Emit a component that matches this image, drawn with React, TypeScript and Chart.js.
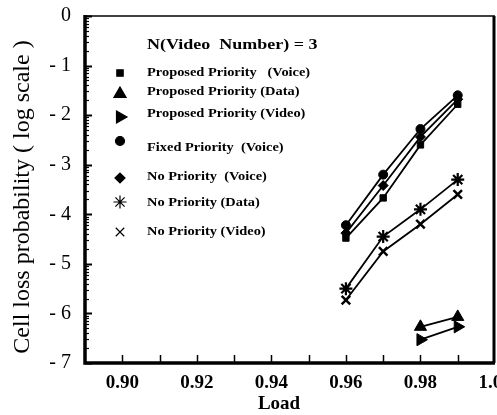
import React, { useEffect, useRef } from "react";
import { Chart, registerables } from "chart.js";
import { drawPoint } from "chart.js/helpers";

Chart.register(...registerables);

const loads = [0.96, 0.97, 0.98, 0.99];
const loadsHigh = [0.98, 0.99];
const proposedVoice = [-4.48, -3.67, -2.6, -1.78];
const proposedData = [-6.27, -6.07];
const proposedVideo = [-6.53, -6.27];
const fixedVoice = [-4.22, -3.2, -2.28, -1.6];
const noPriorityVoice = [-4.38, -3.42, -2.44, -1.68];
const noPriorityData = [-5.5, -4.45, -3.9, -3.3];
const noPriorityVideo = [-5.73, -4.75, -4.2, -3.6];

const xTicks = [0.9, 0.92, 0.94, 0.96, 0.98, 1.0];
const xMinorTicks = [0.91, 0.93, 0.95, 0.97, 0.99];
const yTicks = [0, -1, -2, -3, -4, -5, -6, -7];

const legendTitle = "N(Video  Number) = 3";
const legendLabels = [
  "Proposed Priority   (Voice)",
  "Proposed Priority (Data)",
  "Proposed Priority (Video)",
  "Fixed Priority  (Voice)",
  "No Priority  (Voice)",
  "No Priority (Data)",
  "No Priority (Video)",
];

const SERIF = "'Liberation Serif', 'DejaVu Serif', serif";

type Marker = { pointStyle: any; radius: number; rotation: number; borderWidth: number };
const markers: Marker[] = [
  { pointStyle: "rect", radius: 4.5, rotation: 0, borderWidth: 1 },
  { pointStyle: "triangle", radius: 7, rotation: 0, borderWidth: 1 },
  { pointStyle: "triangle", radius: 7, rotation: 90, borderWidth: 1 },
  { pointStyle: "circle", radius: 4.5, rotation: 0, borderWidth: 1 },
  { pointStyle: "rectRot", radius: 5, rotation: 0, borderWidth: 1 },
  { pointStyle: "star", radius: 6.5, rotation: 0, borderWidth: 2.2 },
  { pointStyle: "crossRot", radius: 6, rotation: 0, borderWidth: 2.5 },
];

const seriesX = [loads, loadsHigh, loadsHigh, loads, loads, loads, loads];
const seriesY = [
  proposedVoice,
  proposedData,
  proposedVideo,
  fixedVoice,
  noPriorityVoice,
  noPriorityData,
  noPriorityVideo,
];

// legend layout offsets relative to chart area (left, top)
const legendRowOffsets = [57, 76, 98, 132, 161, 187, 216];
const legendMarkerDy = [0, 2, 3, -7, 1, -1, 0];

const framePlugin = {
  id: "frame",
  afterDraw(chart: any) {
    const { ctx, chartArea } = chart;
    const xs = chart.scales.x;
    const ys = chart.scales.y;
    const { left, right, top, bottom } = chartArea;
    ctx.save();
    ctx.strokeStyle = "#000";
    ctx.fillStyle = "#000";
    // frame
    ctx.lineWidth = 1.5;
    ctx.beginPath();
    ctx.moveTo(left, top);
    ctx.lineTo(right, top);
    ctx.stroke();
    ctx.lineWidth = 3;
    ctx.beginPath();
    ctx.moveTo(right - 1, top);
    ctx.lineTo(right - 1, bottom);
    ctx.stroke();
    ctx.lineWidth = 3.5;
    ctx.beginPath();
    ctx.moveTo(left, top - 1);
    ctx.lineTo(left, bottom);
    ctx.lineTo(right, bottom);
    ctx.stroke();
    // x ticks
    ctx.lineWidth = 1.5;
    xTicks.concat(xMinorTicks).forEach((v) => {
      const px = Math.round(xs.getPixelForValue(v)) + 0.5;
      if (px > right - 3) return;
      ctx.beginPath();
      ctx.moveTo(px, bottom);
      ctx.lineTo(px, bottom - 8);
      ctx.stroke();
    });
    // y ticks
    yTicks.forEach((v) => {
      const py = Math.round(ys.getPixelForValue(v)) + 0.5;
      ctx.lineWidth = 2;
      ctx.beginPath();
      ctx.moveTo(left, py);
      ctx.lineTo(left + 7, py);
      ctx.stroke();
    });
    ctx.lineWidth = 1.2;
    for (let d = 0; d > -7; d--) {
      for (let m = 2; m <= 9; m++) {
        const v = d - 1 + Math.log10(m);
        const py = Math.round(ys.getPixelForValue(v)) + 0.5;
        ctx.beginPath();
        ctx.moveTo(left, py);
        ctx.lineTo(left + 4, py);
        ctx.stroke();
      }
    }
    // y title
    ctx.save();
    ctx.translate(23, 197);
    ctx.rotate(-Math.PI / 2);
    ctx.font = `24px ${SERIF}`;
    ctx.textAlign = "center";
    ctx.textBaseline = "middle";
    ctx.fillText("Cell loss probability ( log scale )", 0, 0);
    ctx.restore();
    // x title
    ctx.font = `bold 19px ${SERIF}`;
    ctx.textAlign = "center";
    ctx.textBaseline = "middle";
    ctx.fillText("Load", 279, 404);
    // legend
    const lx = left + 35;
    const tx = left + 62;
    ctx.textAlign = "left";
    ctx.save();
    ctx.translate(tx, 0);
    ctx.scale(1.2, 1);
    ctx.font = `bold 15px ${SERIF}`;
    ctx.fillText(legendTitle, 0, top + 29);
    ctx.font = `bold 12px ${SERIF}`;
    legendLabels.forEach((label, i) => {
      ctx.fillText(label, 0, top + legendRowOffsets[i]);
    });
    ctx.restore();
    legendLabels.forEach((_, i) => {
      const y = top + legendRowOffsets[i];
      ctx.fillStyle = "#000";
      ctx.strokeStyle = "#000";
      drawPoint(ctx, { ...markers[i] }, lx, y + legendMarkerDy[i]);
    });
    ctx.restore();
  },
};

export default function App() {
  const ref = useRef<HTMLCanvasElement | null>(null);
  useEffect(() => {
    if (!ref.current) return;
    const datasets = seriesY.map((ys, i) => ({
      label: legendLabels[i],
      data: ys.map((y, j) => ({ x: seriesX[i][j], y })),
      borderColor: "#000",
      backgroundColor: "#000",
      borderWidth: 1.8,
      pointStyle: markers[i].pointStyle,
      pointRadius: markers[i].radius,
      pointRotation: markers[i].rotation,
      pointBorderWidth: markers[i].borderWidth,
      pointBackgroundColor: "#000",
      pointBorderColor: "#000",
      fill: false,
      tension: 0,
    }));
    const chart = new Chart(ref.current, {
      type: "line",
      data: { datasets },
      plugins: [framePlugin],
      options: {
        responsive: false,
        animation: false,
        layout: { padding: { left: 0, right: 27, top: 16, bottom: 0 } },
        plugins: { legend: { display: false }, tooltip: { enabled: false } },
        scales: {
          x: {
            type: "linear",
            min: 0.89,
            max: 1.0,
            afterBuildTicks: (s: any) => {
              s.ticks = xTicks.map((v) => ({ value: v }));
            },
            afterFit: (s: any) => {
              s.height = 52;
              s.paddingLeft = 0;
              s.paddingRight = 0;
            },
            grid: { display: false, drawTicks: false },
            border: { display: false },
            ticks: {
              padding: 9,
              color: "#000",
              font: { family: SERIF, size: 19, weight: "bold" },
              callback: (v: any) => Number(v).toFixed(2),
              maxRotation: 0,
              autoSkip: false,
            },
          },
          y: {
            type: "linear",
            min: -7,
            max: 0,
            afterBuildTicks: (s: any) => {
              s.ticks = yTicks.map((v) => ({ value: v }));
            },
            afterFit: (s: any) => {
              s.width = 85;
              s.paddingTop = 0;
              s.paddingBottom = 0;
            },
            grid: { display: false, drawTicks: false },
            border: { display: false },
            ticks: {
              padding: 14,
              color: "#000",
              font: { family: SERIF, size: 20 },
              callback: (v: any) => (Number(v) === 0 ? "0" : "- " + Math.abs(Number(v))),
              autoSkip: false,
            },
          },
        },
      },
    });
    return () => chart.destroy();
  }, []);
  return (
    <div
      style={{
        position: "fixed",
        left: 0,
        top: 0,
        width: 497,
        height: 415,
        overflow: "hidden",
        background: "#fff",
      }}
    >
      <canvas ref={ref} width={522} height={415} style={{ display: "block" }} />
    </div>
  );
}
